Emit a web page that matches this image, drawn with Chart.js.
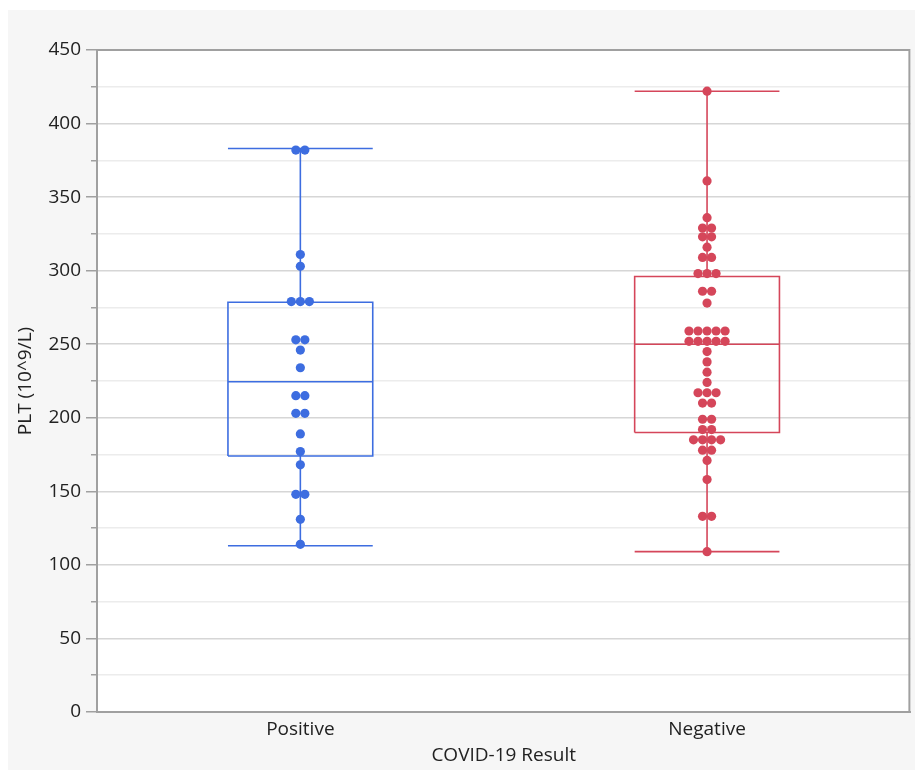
<!DOCTYPE html>
<html>
<head>
<meta charset="utf-8">
<script src="https://cdn.jsdelivr.net/npm/chart.js@4.4.1/dist/chart.umd.min.js"></script>
<style>
	body { margin: 0; background: #fff; }
	#wrap { position: absolute; left: 8px; top: 10px; width: 907px; height: 760px; background: #f6f6f6; }
</style>
</head>
<body>
<div id="wrap"><canvas id="pltChart" width="907" height="760"></canvas></div>
<script>

// data
var categories = ['Positive', 'Negative'];
var positivePlt = [382, 382, 311, 303, 279, 279, 279, 253, 253, 246, 234, 215, 215, 203, 203, 189, 177, 168, 148, 148, 131, 114];
var negativePlt = [422, 361, 336, 329, 329, 323, 323, 316, 309, 309, 298, 298, 298, 286, 286, 278,
	259, 259, 259, 259, 259, 252, 252, 252, 252, 252, 245, 238, 231, 224, 217, 217, 217, 210, 210,
	199, 199, 192, 192, 185, 185, 185, 185, 178, 178, 171, 158, 133, 133, 109];
// min, q1, median, q3, max
var positiveBox = [113, 174, 224.5, 278.5, 383];
var negativeBox = [109, 190, 250, 296, 422];
var yRange = [0, 450];
var yStep = 25;
var yLabelStep = 50;

var blue = '#3d6de0';
var red = '#d5465a';
var axisGray = '#a0a0a0';
var textColor = '#222222';
var FONT = "'Open Sans', 'Noto Sans', sans-serif";

var BOX_HALF = 0.178;   // x-axis units
var DOT_STEP = 0.0222;  // x-axis units between side by side dots

function swarm(values, center){
	var counts = {}, seen = {};
	values.forEach(function(v){ counts[v] = (counts[v] || 0) + 1; });
	return values.map(function(v){
		seen[v] = (seen[v] === undefined) ? 0 : seen[v] + 1;
		return { x: center + (seen[v] - (counts[v] - 1) / 2) * DOT_STEP, y: v };
	});
}

function boxLines(s, c){
	var mn = s[0], q1 = s[1], md = s[2], q3 = s[3], mx = s[4];
	var l = c - BOX_HALF, r = c + BOX_HALF;
	var gap = { x: c, y: null };
	return [
		{x: l, y: q1}, {x: r, y: q1}, {x: r, y: q3}, {x: l, y: q3}, {x: l, y: q1}, gap,
		{x: l, y: md}, {x: r, y: md}, gap,
		{x: c, y: q3}, {x: c, y: mx}, gap,
		{x: l, y: mx}, {x: r, y: mx}, gap,
		{x: c, y: mn}, {x: c, y: q1}, gap,
		{x: l, y: mn}, {x: r, y: mn}
	];
}

function dotSet(values, c, color){
	return {
		data: swarm(values, c),
		backgroundColor: color,
		borderColor: color,
		borderWidth: 0,
		pointRadius: 4.6,
		pointHoverRadius: 4.6
	};
}

function lineSet(stats, c, color){
	return {
		data: boxLines(stats, c),
		showLine: true,
		spanGaps: false,
		borderColor: color,
		borderWidth: 1.6,
		pointRadius: 0,
		pointHoverRadius: 0
	};
}

var plotFrame = {
	id: 'plotFrame',
	beforeDraw: function(chart){
		var a = chart.chartArea, ctx = chart.ctx;
		ctx.save();
		ctx.fillStyle = '#ffffff';
		ctx.fillRect(a.left, a.top, a.right - a.left, a.bottom - a.top);
		ctx.restore();
	},
	afterDraw: function(chart){
		var a = chart.chartArea, ctx = chart.ctx;
		ctx.save();
		ctx.strokeStyle = axisGray;
		ctx.lineWidth = 2;
		ctx.beginPath();
		ctx.moveTo(a.left, a.top);
		ctx.lineTo(a.right - 1, a.top);
		ctx.lineTo(a.right - 1, a.bottom);
		ctx.stroke();
		ctx.restore();
	}
};

function init_chart_plt(){

	if( typeof (Chart) === 'undefined'){ return; }

	var chart_settings = {
		type: 'scatter',
		data: {
			datasets: [
				dotSet(positivePlt, 0, blue),
				dotSet(negativePlt, 1, red),
				lineSet(positiveBox, 0, blue),
				lineSet(negativeBox, 1, red)
			]
		},
		options: {
			responsive: false,
			animation: false,
			layout: { padding: { left: 0, top: 40, right: 3, bottom: 0 } },
			plugins: { legend: { display: false }, tooltip: { enabled: false } },
			scales: {
				x: {
					type: 'linear',
					min: -0.5,
					max: 1.5,
					afterBuildTicks: function(scale){
						scale.ticks = categories.map(function(c, i){ return { value: i }; });
					},
					afterFit: function(scale){ scale.height = 58; },
					grid: { display: false, drawTicks: false },
					border: { display: true, color: axisGray, width: 2 },
					ticks: {
						padding: 6,
						color: textColor,
						font: { family: FONT, size: 19 },
						callback: function(v){ return categories[v]; }
					},
					title: {
						display: true,
						text: 'COVID-19 Result',
						color: textColor,
						font: { family: FONT, size: 19 },
						padding: { top: 0, bottom: 3 }
					}
				},
				y: {
					min: yRange[0],
					max: yRange[1],
					afterFit: function(scale){ scale.width = 89; },
					border: { display: true, color: axisGray, width: 2 },
					grid: {
						color: function(c){
							var v = c.tick.value;
							if (v === yRange[0] || v === yRange[1]) { return 'rgba(0,0,0,0)'; }
							return v % yLabelStep === 0 ? '#d6d6d6' : '#ececec';
						},
						lineWidth: 1.5,
						tickLength: 11,
						tickColor: axisGray,
						tickWidth: 1.5,
						tickBorderDash: function(c){
							return c.tick.value % yLabelStep === 0 ? [] : [0, 5, 30];
						}
					},
					ticks: {
						stepSize: yStep,
						autoSkip: false,
						padding: 5,
						color: textColor,
						font: { family: FONT, size: 19 },
						callback: function(v){ return v % yLabelStep === 0 ? v : ''; }
					},
					title: {
						display: true,
						text: 'PLT (10^9/L)',
						color: textColor,
						font: { family: FONT, size: 19 },
						padding: { top: 6, bottom: 0 }
					}
				}
			}
		},
		plugins: [plotFrame]
	};

	var chart_element = document.getElementById('pltChart');
	var chart_plt = new Chart(chart_element, chart_settings);

}

init_chart_plt();
</script>
</body>
</html>
